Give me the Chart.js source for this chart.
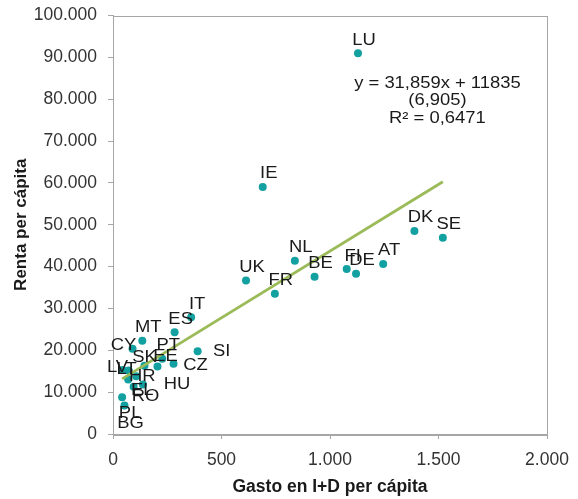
<!DOCTYPE html>
<html>
<head>
<meta charset="utf-8">
<script src="https://cdn.jsdelivr.net/npm/chart.js@4"></script>
<style>
  html, body { margin: 0; padding: 0; background: #ffffff; }
  #wrap { width: 578px; height: 499px; }
</style>
</head>
<body>
<div id="wrap"><canvas id="c" width="578" height="499"></canvas></div>
<script>
// ---- data ----
const countries = ['LU','IE','DK','SE','AT','FI','DE','NL','BE','UK','FR','IT','ES','MT','CY','PT','SI','CZ','EE','SK','LT','LV','HR','HU','EL','RO','PL','BG'];
const rdPerCapita = [1129, 690, 1389, 1520, 1245, 1077, 1120, 838, 929, 613, 746, 360, 284, 135, 90, 227, 390, 279, 205, 145, 72, 44, 107, 138, 70, 95, 42, 53];
const incomePerCapita = [91000, 59000, 48500, 46900, 40600, 39400, 38300, 41400, 37600, 36700, 33500, 27900, 24300, 22300, 20400, 18000, 19800, 16800, 16100, 16300, 15200, 15300, 13800, 11800, 13000, 11300, 8800, 6800];
const trendSlope = 31.859;
const trendIntercept = 11835;
const equationLines = ['y = 31,859x + 11835', '(6,905)', 'R\u00b2 = 0,6471'];
const xTicks = [0, 500, 1000, 1500, 2000];
const yTicks = [0, 10000, 20000, 30000, 40000, 50000, 60000, 70000, 80000, 90000, 100000];
const xTitle = 'Gasto en I+D per c\u00e1pita';
const yTitle = 'Renta per c\u00e1pita';

// ---- label placement (text pixel offsets, not data) ----
const labelOffsets = {
  default: [6, -13],
  SI: [24, 0], CZ: [22, 2], CY: [-9, -3], SK: [0, -8], EE: [8, -10],
  LV: [-5, -2], LT: [-2, -1], HR: [6, 0], HU: [34, 0], EL: [14, 11],
  RO: [12, 10], PL: [8, 16], BG: [6, 18]
};

const points = rdPerCapita.map((x, i) => ({ x: x, y: incomePerCapita[i] }));
const minX = Math.min(...rdPerCapita), maxX = Math.max(...rdPerCapita);
const trendPts = [minX, maxX].map(x => ({ x: x, y: trendSlope * x + trendIntercept }));

function fmt(v) {
  return String(v).replace(/\B(?=(\d{3})+(?!\d))/g, '.');
}

const FONT = "'Liberation Sans', Arial, sans-serif";
const STRETCH = 1.15;

function stretchedText(ctx, text, x, y) {
  ctx.save();
  ctx.translate(x, y);
  ctx.scale(STRETCH, 1);
  ctx.fillText(text, 0, 0);
  ctx.restore();
}

const frameAndLabels = {
  id: 'frameAndLabels',
  beforeDatasetsDraw(chart) {
    const { ctx, chartArea: a } = chart;
    ctx.save();
    ctx.strokeStyle = '#a6a6a6';
    ctx.lineWidth = 1;
    ctx.strokeRect(Math.round(a.left) + 0.5, Math.round(a.top) + 0.5, Math.round(a.right - a.left), Math.round(a.bottom - a.top));
    ctx.restore();
  },
  afterDatasetsDraw(chart) {
    const { ctx } = chart;
    const meta = chart.getDatasetMeta(1);
    ctx.save();
    ctx.font = '16px ' + FONT;
    ctx.fillStyle = '#1a1a1a';
    ctx.textAlign = 'center';
    ctx.textBaseline = 'middle';
    meta.data.forEach((el, i) => {
      const code = countries[i];
      const off = labelOffsets[code] || labelOffsets.default;
      stretchedText(ctx, code, el.x + off[0], el.y + off[1]);
    });
    // equation text
    const xs = chart.scales.x, ys = chart.scales.y;
    const cx = xs.getPixelForValue(1495);
    const cy = ys.getPixelForValue(83800);
    equationLines.forEach((t, k) => stretchedText(ctx, t, cx, cy + k * 17.5));
    ctx.restore();
  }
};

new Chart(document.getElementById('c'), {
  data: {
    datasets: [
      {
        type: 'line',
        data: trendPts,
        borderColor: '#9bbb59',
        borderWidth: 2.8,
        pointRadius: 0,
        fill: false,
        order: 0
      },
      {
        type: 'scatter',
        data: points,
        backgroundColor: '#13a0a0',
        borderColor: '#13a0a0',
        pointRadius: 4,
        pointBorderWidth: 0,
        order: 1
      }
    ]
  },
  plugins: [frameAndLabels],
  options: {
    responsive: false,
    animation: false,
    layout: { padding: { top: 15.5, right: 31, left: 0, bottom: 0 } },
    plugins: { legend: { display: false }, tooltip: { enabled: false } },
    scales: {
      x: {
        type: 'linear',
        min: 0, max: 2000,
        afterBuildTicks(s) { s.ticks = xTicks.map(v => ({ value: v })); },
        afterFit(s) { s.height = 65; s.paddingLeft = 0; s.paddingRight = 0; },
        grid: { display: true, drawOnChartArea: false, drawTicks: true, tickLength: 5, color: '#a6a6a6' },
        border: { display: true, color: '#a6a6a6' },
        ticks: { padding: 11, color: '#333333', font: { family: FONT, size: 17.5 }, callback: v => fmt(v), maxRotation: 0 },
        title: { display: true, text: xTitle, color: '#1a1a1a', font: { family: FONT, size: 17.5, weight: 'bold' }, padding: { top: 3, bottom: 1 } }
      },
      y: {
        type: 'linear',
        min: 0, max: 100000,
        afterBuildTicks(s) { s.ticks = yTicks.map(v => ({ value: v })); },
        afterFit(s) { s.width = 113; s.paddingTop = 0; s.paddingBottom = 0; },
        grid: { display: true, drawOnChartArea: false, drawTicks: true, tickLength: 5, color: '#a6a6a6' },
        border: { display: true, color: '#a6a6a6' },
        ticks: { padding: 11, color: '#333333', font: { family: FONT, size: 17.5 }, callback: v => fmt(v) },
        title: { display: true, text: yTitle, color: '#1a1a1a', font: { family: FONT, size: 17, weight: 'bold' }, padding: { top: 11, bottom: 0 } }
      }
    }
  }
});
</script>
</body>
</html>
